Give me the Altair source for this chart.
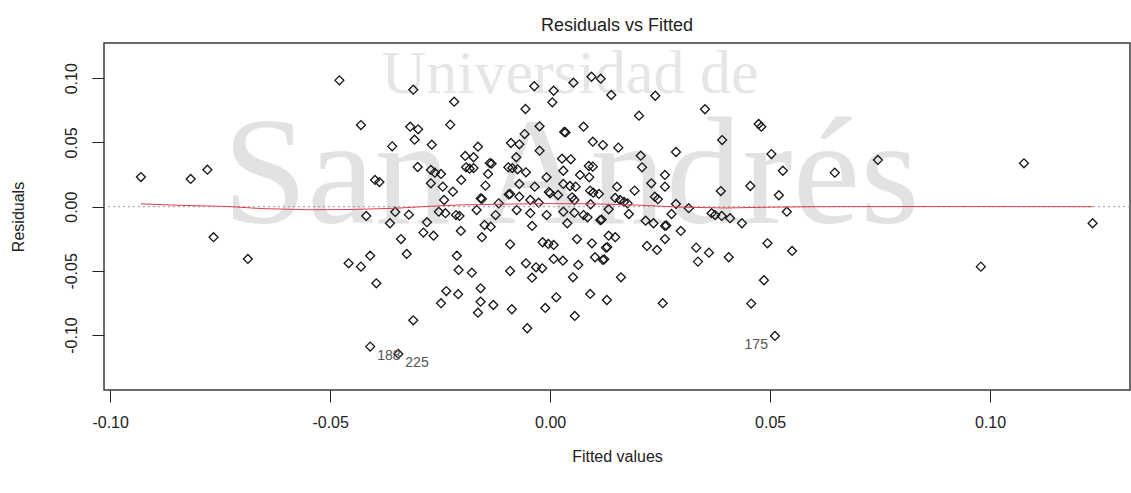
import altair as alt
import pandas as pd

# Fitted values and residuals of the linear model
fitted = [
    -0.0930, -0.0817, -0.0779, -0.0765, -0.0687,
    -0.0479, -0.0311, -0.0430, -0.0318, -0.0300, -0.0308, -0.0359, -0.0301, -0.0398, -0.0388,
    -0.0418, -0.0352, -0.0321,
    -0.0364, -0.0339, -0.0409, -0.0458, -0.0430, -0.0326, -0.0395, -0.0311, -0.0409, -0.0345,
    -0.0036, 0.0008, 0.0005, -0.0218, -0.0056, -0.0227, -0.0024, -0.0058, -0.0269, -0.0164,
    -0.0089, -0.0070, -0.0024, -0.0193, -0.0174, -0.0077, -0.0191, -0.0183, -0.0174, -0.0137,
    -0.0133, -0.0095, -0.0086, -0.0074, -0.0055, -0.0271, -0.0262, -0.0248, -0.0141, -0.0202,
    -0.0008, -0.0271, -0.0244, -0.0221, -0.0147, -0.0070, -0.0035, -0.0003, -0.0091, -0.0094,
    -0.0158, -0.0155, -0.0241, -0.0070, -0.0045, -0.0026, -0.0117, -0.0253, -0.0238, -0.0214,
    -0.0206, -0.0167, -0.0124, -0.0076, -0.0045, -0.0008,
    -0.0280, -0.0288, -0.0265, -0.0203, -0.0149, -0.0135, -0.0155, -0.0041, -0.0212, -0.0091,
    -0.0017, -0.0004, 0.0008, 0.0008, -0.0208, -0.0178, -0.0091, -0.0055, -0.0032, -0.0018,
    -0.0041, -0.0236, -0.0209, -0.0158, -0.0248, -0.0158, -0.0129, -0.0164, -0.0087, -0.0011,
    0.0014, -0.0052,
    0.0094, 0.0115, 0.0053, 0.0139, 0.0239, 0.0202, 0.0032, 0.0035, 0.0076, 0.0097,
    0.0120, 0.0155, 0.0286, 0.0206, 0.0027, 0.0047, 0.0088, 0.0097, 0.0209, 0.0030,
    0.0068, 0.0089, 0.0261, 0.0230, 0.0030, 0.0045, 0.0058, 0.0091, 0.0098, 0.0152,
    0.0261, 0.0192, 0.0000, 0.0018, 0.0050, 0.0055, 0.0111, 0.0148, 0.0159, 0.0168,
    0.0176, 0.0238, 0.0245, 0.0286, 0.0092, 0.0133, 0.0030, 0.0055, 0.0076, 0.0179,
    0.0276,
    0.0085, 0.0114, 0.0117, 0.0217, 0.0235, 0.0261, 0.0264, 0.0297, 0.0039, 0.0061,
    0.0095, 0.0133, 0.0148, 0.0127, 0.0130, 0.0120, 0.0123, 0.0102, 0.0220, 0.0243,
    0.0261, 0.0029, 0.0064, 0.0052, 0.0161, 0.0091, 0.0129, 0.0256, 0.0056,
    0.0352, 0.0474, 0.0480, 0.0391, 0.0503, 0.0529, 0.0388, 0.0455, 0.0520, 0.0315,
    0.0538, 0.0367, 0.0375, 0.0390, 0.0409,
    0.0436, 0.0332, 0.0361, 0.0336, 0.0406, 0.0494, 0.0550, 0.0486, 0.0457, 0.0511,
    0.0647, 0.0745, 0.1077, 0.0979, 0.1233,
]
residuals = [
    0.0231, 0.0216, 0.0288, -0.0238, -0.0407,
    0.0984, 0.0911, 0.0636, 0.0623, 0.0603, 0.0522, 0.0470, 0.0309, 0.0208, 0.0192,
    -0.0072, -0.0041, -0.0062,
    -0.0129, -0.0252, -0.0382, -0.0441, -0.0467, -0.0368, -0.0597, -0.0885, -0.1090, -0.1147,
    0.0938, 0.0903, 0.0813, 0.0818, 0.0761, 0.0639, 0.0626, 0.0566, 0.0483, 0.0467,
    0.0496, 0.0486, 0.0436, 0.0395, 0.0385, 0.0385, 0.0307, 0.0296, 0.0301, 0.0340,
    0.0335, 0.0307, 0.0301, 0.0291, 0.0268, 0.0286, 0.0265, 0.0255, 0.0255, 0.0208,
    0.0229, 0.0182, 0.0156, 0.0117, 0.0164, 0.0177, 0.0156, 0.0114, 0.0099, 0.0095,
    0.0065, 0.0060, 0.0052, 0.0078, 0.0052, 0.0031, 0.0026, -0.0039, -0.0051, -0.0065,
    -0.0072, -0.0026, -0.0065, -0.0026, -0.0051, -0.0065,
    -0.0121, -0.0202, -0.0226, -0.0189, -0.0143, -0.0156, -0.0238, -0.0150, -0.0382, -0.0293,
    -0.0277, -0.0290, -0.0298, -0.0407, -0.0493, -0.0514, -0.0501, -0.0441, -0.0472, -0.0480,
    -0.0553, -0.0657, -0.0682, -0.0636, -0.0752, -0.0740, -0.0766, -0.0826, -0.0799, -0.0789,
    -0.0706, -0.0947,
    0.1012, 0.0997, 0.0966, 0.0870, 0.0864, 0.0709, 0.0582, 0.0578, 0.0623, 0.0506,
    0.0480, 0.0460, 0.0426, 0.0397, 0.0374, 0.0369, 0.0317, 0.0312, 0.0307, 0.0280,
    0.0247, 0.0229, 0.0247, 0.0182, 0.0177, 0.0161, 0.0156, 0.0125, 0.0109, 0.0156,
    0.0156, 0.0125, 0.0104, 0.0091, 0.0073, 0.0052, 0.0099, 0.0068, 0.0052, 0.0037,
    0.0026, 0.0078, 0.0058, 0.0021, 0.0019, -0.0020, -0.0039, -0.0047, -0.0065, -0.0057,
    -0.0057,
    -0.0083, -0.0104, -0.0100, -0.0109, -0.0129, -0.0150, -0.0146, -0.0189, -0.0129, -0.0252,
    -0.0285, -0.0226, -0.0238, -0.0319, -0.0315, -0.0415, -0.0410, -0.0394, -0.0306, -0.0337,
    -0.0252, -0.0421, -0.0454, -0.0550, -0.0550, -0.0680, -0.0727, -0.0752, -0.0851,
    0.0759, 0.0644, 0.0623, 0.0519, 0.0410, 0.0280, 0.0122, 0.0161, 0.0089, -0.0012,
    -0.0039, -0.0051, -0.0065, -0.0072, -0.0090,
    -0.0129, -0.0319, -0.0358, -0.0428, -0.0394, -0.0285, -0.0345, -0.0573, -0.0755, -0.1007,
    0.0265, 0.0364, 0.0338, -0.0467, -0.0129,
]

# Lowess smooth of residuals on fitted values
smooth_x = [-0.0930, -0.0835, -0.0730, -0.0655, -0.0550, -0.0450, -0.0350, -0.0280, -0.0200, -0.0100,
            0.0000, 0.0100, 0.0200, 0.0300, 0.0400, 0.0500, 0.0600, 0.0800, 0.1000, 0.1233]
smooth_y = [0.0022, 0.0010, 0.0001, -0.0015, -0.0024, -0.0022, -0.0012, 0.0002, 0.0014, 0.0020,
            0.0024, 0.0022, 0.0012, -0.0004, -0.0010, -0.0004, 0.0000, 0.0001, 0.0001, 0.0000]

# Observations flagged with the largest residuals
flag_id = ["188", "225", "175"]
flag_x = [-0.0409, -0.0345, 0.0511]
flag_y = [-0.1090, -0.1147, -0.1007]
flag_side = ["right", "right", "left"]

x_ticks = [-0.10, -0.05, 0.00, 0.05, 0.10]
y_ticks = [-0.10, -0.05, 0.00, 0.05, 0.10]

pts = pd.DataFrame({"fitted": fitted, "resid": residuals})
smooth = pd.DataFrame({"fitted": smooth_x, "resid": smooth_y})
flags = pd.DataFrame({"id": flag_id, "fitted": flag_x, "resid": flag_y, "side": flag_side})
zero = pd.DataFrame({"resid": [0.0]})

FONT = "Liberation Sans"
W, H = 1026, 347
X_DOMAIN = [-0.1014, 0.1318]
Y_DOMAIN = [-0.1428, 0.1275]

hyphen_fmt = "datum.value < 0 ? '-' + format(-datum.value, '.2f') : format(datum.value, '.2f')"

x_enc = alt.X(
    "fitted:Q",
    scale=alt.Scale(domain=X_DOMAIN, nice=False, zero=False),
    axis=alt.Axis(
        values=x_ticks, labelExpr=hyphen_fmt, title="Fitted values",
        labelPadding=12, titleX=W / 2, titleY=66, titleBaseline="middle",
        titleAlign="center",
    ),
)
y_enc = alt.Y(
    "resid:Q",
    scale=alt.Scale(domain=Y_DOMAIN, nice=False, zero=False),
    axis=alt.Axis(
        values=y_ticks, labelExpr=hyphen_fmt, title="Residuals",
        labelAngle=270, labelAlign="center", labelBaseline="alphabetic", labelPadding=16,
        titleAngle=270, titleX=-86, titleY=H / 2, titleBaseline="middle", titleAlign="center",
    ),
)

# faint background lettering
wm_top = alt.Chart(pd.DataFrame({"t": ["Universidad de"]})).mark_text(
    font="Liberation Serif", fontSize=62, color="#e6e6e6", align="center", baseline="alphabetic"
).encode(x=alt.value(466), y=alt.value(50), text="t:N")
wm_main = alt.Chart(pd.DataFrame({"t": ["San Andrés"]})).mark_text(
    font="Liberation Serif", fontSize=152, color="#e2e2e2", align="center", baseline="alphabetic"
).encode(x=alt.value(467), y=alt.value(180), text="t:N")

# plot caption above the frame
caption = alt.Chart(pd.DataFrame({"t": ["Residuals vs Fitted"]})).mark_text(
    font=FONT, fontSize=18, color="#222222", align="center", baseline="alphabetic"
).encode(x=alt.value(W / 2), y=alt.value(-12), text="t:N")

zero_line = alt.Chart(zero).mark_rule(color="#9a9a9a", strokeDash=[2, 3], strokeWidth=1).encode(
    y="resid:Q"
)

points = alt.Chart(pts).mark_point(
    shape="diamond", filled=False, size=80, stroke="#151515", strokeWidth=1.3, opacity=1
).encode(x=x_enc, y=y_enc)

smooth_line = alt.Chart(smooth).mark_line(color="#e0404a", strokeWidth=1).encode(
    x="fitted:Q", y="resid:Q"
)

lab_right = alt.Chart(flags).transform_filter(alt.datum.side == "right").mark_text(
    font=FONT, fontSize=14, color="#555555", align="left", baseline="middle", dx=7, dy=9
).encode(x="fitted:Q", y="resid:Q", text="id:N")
lab_left = alt.Chart(flags).transform_filter(alt.datum.side == "left").mark_text(
    font=FONT, fontSize=14, color="#555555", align="right", baseline="middle", dx=-7, dy=9
).encode(x="fitted:Q", y="resid:Q", text="id:N")

chart = alt.layer(
    wm_top, wm_main, points, zero_line, smooth_line, lab_right, lab_left, caption
).properties(
    width=W, height=H,
    autosize=alt.AutoSizeParams(type="none"),
    padding={"left": 104, "top": 43, "right": 1, "bottom": 103},
    background="white",
).configure_view(
    stroke="#3a3a3a", strokeWidth=1.5
).configure_axis(
    domain=False, grid=False, tickColor="#222222", tickSize=12, tickWidth=1,
    labelFont=FONT, labelFontSize=16, labelColor="#222222",
    titleFont=FONT, titleFontSize=16, titleFontWeight="normal", titleColor="#222222",
)

chart.save("out.html", embed_options={"renderer": "svg", "actions": False})
